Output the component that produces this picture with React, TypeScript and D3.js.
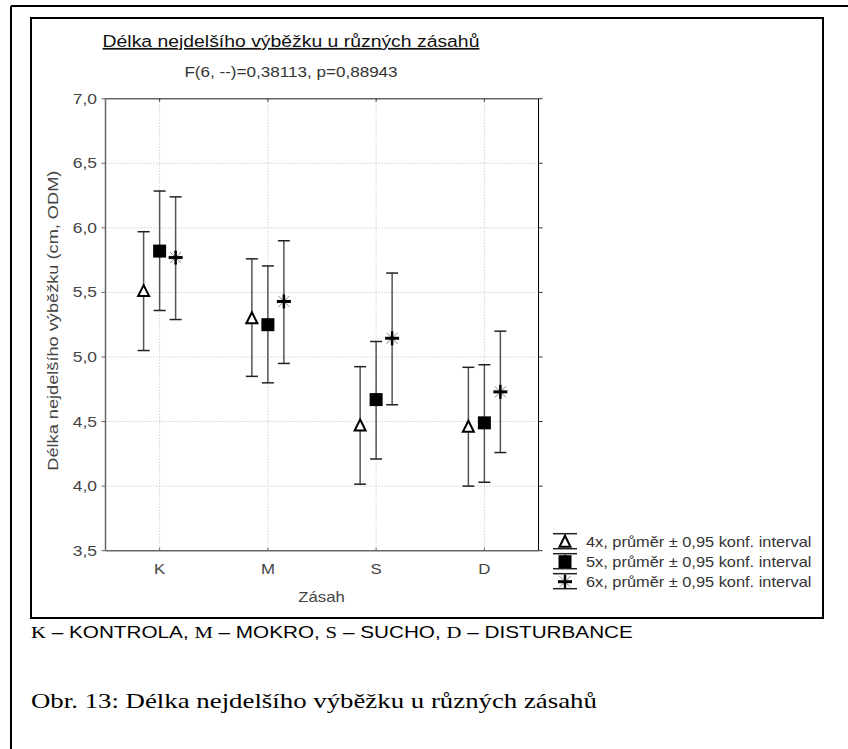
import React from "react";
import * as d3 from "d3";

const categories = ["K", "M", "S", "D"];
const seriesNames = [
  "4x, průměr ± 0,95 konf. interval",
  "5x, průměr ± 0,95 konf. interval",
  "6x, průměr ± 0,95 konf. interval",
];
const mean4x = [5.51, 5.3, 4.47, 4.46];
const lower4x = [5.05, 4.85, 4.015, 4.0];
const upper4x = [5.97, 5.76, 4.925, 4.92];
const mean5x = [5.82, 5.25, 4.67, 4.49];
const lower5x = [5.36, 4.8, 4.21, 4.03];
const upper5x = [6.285, 5.705, 5.12, 4.94];
const mean6x = [5.77, 5.43, 5.145, 4.73];
const lower6x = [5.29, 4.95, 4.63, 4.26];
const upper6x = [6.24, 5.9, 5.65, 5.2];
const yTicks = [3.5, 4.0, 4.5, 5.0, 5.5, 6.0, 6.5, 7.0];
const markerTypes = ["triangle", "square", "star"];

const series = [
  { mean: mean4x, lower: lower4x, upper: upper4x },
  { mean: mean5x, lower: lower5x, upper: upper5x },
  { mean: mean6x, lower: lower6x, upper: upper6x },
];

const SANS = "'Liberation Sans', Arial, sans-serif";
const SERIF = "'Liberation Serif', 'Times New Roman', serif";

function SText({
  x,
  y,
  sx = 1.2,
  rot = 0,
  anchor = "start",
  size = 14,
  fill = "#444",
  family = SANS,
  deco,
  children,
}: any) {
  return (
    <text
      transform={`translate(${x},${y}) rotate(${rot}) scale(${sx},1)`}
      textAnchor={anchor}
      fontFamily={family}
      fontSize={size}
      fill={fill}
      textDecoration={deco}
    >
      {children}
    </text>
  );
}

function Marker({ type, x, y }: { type: string; x: number; y: number }) {
  if (type === "triangle") {
    const s = 11;
    const h = 10;
    return (
      <path
        d={`M${x},${y - h / 2 - 1} L${x + s / 2},${y + h / 2} L${x - s / 2},${y + h / 2} Z`}
        fill="#fff"
        stroke="#000"
        strokeWidth={2}
      />
    );
  }
  if (type === "square") {
    return <rect x={x - 6.5} y={y - 6.5} width={13} height={13} fill="#000" />;
  }
  const r = 7;
  const d = 5.5;
  return (
    <g>
      <line x1={x - d} y1={y - d} x2={x + d} y2={y + d} stroke="#888" strokeWidth={1} />
      <line x1={x - d} y1={y + d} x2={x + d} y2={y - d} stroke="#888" strokeWidth={1} />
      <line x1={x} y1={y - r} x2={x} y2={y + r} stroke="#000" strokeWidth={2.5} />
      <line x1={x - r} y1={y} x2={x + r} y2={y} stroke="#000" strokeWidth={3} />
    </g>
  );
}

export default function App() {
  const W = 848;
  const H = 749;
  const left = 105.5;
  const right = 538.5;
  const top = 98.7;
  const bottom = 550.7;

  const x = d3.scaleBand<string>().domain(categories).range([left, right]).padding(0);
  const y = d3.scaleLinear().domain([3.5, 7.0]).range([bottom, top]);
  const cx = (c: string) => (x(c) as number) + x.bandwidth() / 2;
  const offsets = [-16, 0, 16];
  const fmt = (v: number) => v.toFixed(1).replace(".", ",");
  const capW = 12;

  return (
    <svg
      width={W}
      height={H}
      style={{ position: "absolute", left: 0, top: 0, background: "#fff" }}
    >
      <rect x={0} y={0} width={W} height={H} fill="#fff" />
      {/* outer frame */}
      <line x1={11} y1={6} x2={W} y2={6} stroke="#000" strokeWidth={2} />
      <line x1={11} y1={6} x2={11} y2={H} stroke="#000" strokeWidth={2} />
      {/* inner frame */}
      <rect x={31} y={18} width={792} height={600} fill="#fff" stroke="#000" strokeWidth={2} />

      {/* title */}
      <SText x={291} y={47} sx={1.14} anchor="middle" size={17} fill="#111" deco="underline">
        Délka nejdelšího výběžku u různých zásahů
      </SText>
      <SText x={291} y={76.5} sx={1.22} anchor="middle" size={14} fill="#333">
        F(6, --)=0,38113, p=0,88943
      </SText>

      {/* grid */}
      {yTicks.slice(1, -1).map((t) => (
        <line
          key={"gy" + t}
          x1={left}
          x2={right}
          y1={y(t)}
          y2={y(t)}
          stroke="#bbb"
          strokeWidth={1}
          strokeDasharray="1,2"
        />
      ))}
      {categories.map((c) => (
        <line
          key={"gx" + c}
          x1={cx(c)}
          x2={cx(c)}
          y1={top}
          y2={bottom}
          stroke="#bbb"
          strokeWidth={1}
          strokeDasharray="1,2"
        />
      ))}

      {/* axes frame */}
      <line x1={left} x2={right} y1={top} y2={top} stroke="#666" strokeWidth={1.5} />
      <line x1={right} x2={right} y1={top} y2={bottom} stroke="#000" strokeWidth={1} />
      <line x1={left} x2={left} y1={top} y2={bottom} stroke="#666" strokeWidth={1.5} />
      <line x1={left} x2={right} y1={bottom} y2={bottom} stroke="#666" strokeWidth={1.5} />

      {/* ticks */}
      {yTicks.map((t) => (
        <g key={"yt" + t}>
          <line x1={left - 4} x2={left} y1={y(t)} y2={y(t)} stroke="#666" strokeWidth={1} />
          <line x1={right} x2={right + 4} y1={y(t)} y2={y(t)} stroke="#333" strokeWidth={1} />
          <SText x={97} y={y(t) + 5} sx={1.25} anchor="end" size={14} fill="#444">
            {fmt(t)}
          </SText>
        </g>
      ))}
      {categories.map((c) => (
        <g key={"xt" + c}>
          <line x1={cx(c)} x2={cx(c)} y1={top} y2={top + 3} stroke="#333" strokeWidth={1} />
          <line x1={cx(c)} x2={cx(c)} y1={bottom} y2={bottom - 3} stroke="#666" strokeWidth={1} />
          <SText x={cx(c)} y={573.5} sx={1.2} anchor="middle" size={14} fill="#444">
            {c}
          </SText>
        </g>
      ))}

      {/* axis titles */}
      <SText x={321.5} y={602} sx={1.2} anchor="middle" size={14} fill="#444">
        Zásah
      </SText>
      <SText x={58} y={(top + bottom) / 2 - 4} rot={-90} sx={1.3} anchor="middle" size={14} fill="#444">
        Délka nejdelšího výběžku (cm, ODM)
      </SText>

      {/* error bars and markers */}
      {series.map((s, si) =>
        categories.map((c, ci) => {
          const px = cx(c) + offsets[si];
          return (
            <g key={`s${si}-${ci}`}>
              <line x1={px} x2={px} y1={y(s.upper[ci])} y2={y(s.lower[ci])} stroke="#555" strokeWidth={1.5} />
              <line
                x1={px - capW / 2}
                x2={px + capW / 2}
                y1={y(s.upper[ci])}
                y2={y(s.upper[ci])}
                stroke="#222"
                strokeWidth={1.5}
              />
              <line
                x1={px - capW / 2}
                x2={px + capW / 2}
                y1={y(s.lower[ci])}
                y2={y(s.lower[ci])}
                stroke="#222"
                strokeWidth={1.5}
              />
              <Marker type={markerTypes[si]} x={px} y={y(s.mean[ci])} />
            </g>
          );
        })
      )}

      {/* legend */}
      {seriesNames.map((name, i) => {
        const ly = 541.7 + i * 20;
        const lx0 = 553;
        const lx1 = 577;
        return (
          <g key={"lg" + i}>
            <line x1={lx0} x2={lx1} y1={ly - 8} y2={ly - 8} stroke="#222" strokeWidth={1.5} />
            <line x1={lx0} x2={lx1} y1={ly + 7} y2={ly + 7} stroke="#222" strokeWidth={1.5} />
            <line x1={(lx0 + lx1) / 2} x2={(lx0 + lx1) / 2} y1={ly - 8} y2={ly + 7} stroke="#555" strokeWidth={1.5} />
            <Marker type={markerTypes[i]} x={(lx0 + lx1) / 2} y={ly} />
            <SText x={586} y={ly + 5} sx={1.17} size={14} fill="#333">
              {name}
            </SText>
          </g>
        );
      })}

      {/* footnote */}
      <text transform="translate(31,637.5) scale(1.295,1)" fontSize={16} fill="#000">
        <tspan fontFamily={SERIF}>K</tspan>
        <tspan fontFamily={SANS}> – KONTROLA, </tspan>
        <tspan fontFamily={SERIF}>M</tspan>
        <tspan fontFamily={SANS}> – MOKRO, </tspan>
        <tspan fontFamily={SERIF}>S</tspan>
        <tspan fontFamily={SANS}> – SUCHO, </tspan>
        <tspan fontFamily={SERIF}>D</tspan>
        <tspan fontFamily={SANS}> – DISTURBANCE</tspan>
      </text>
      <text transform="translate(31,707.5) scale(1.22,1)" fontFamily={SERIF} fontSize={22} fill="#000">
        Obr. 13: Délka nejdelšího výběžku u různých zásahů
      </text>
    </svg>
  );
}
